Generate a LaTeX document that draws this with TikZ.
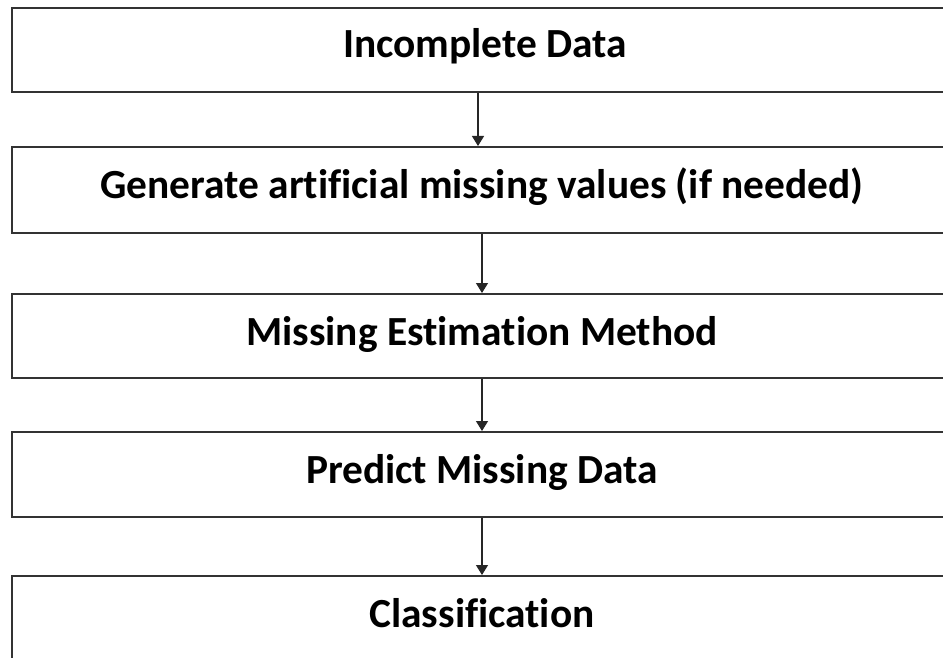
\documentclass[tikz,border=0pt]{standalone}
\usepackage{fontspec}
\setmainfont{Carlito}[Ligatures=NoCommon]
\usetikzlibrary{arrows.meta}
\begin{document}
\begin{tikzpicture}[x=1pt,y=-1pt,
  stagebox/.style={draw=black!80, line width=2pt, minimum width=940pt, inner sep=0pt},
  stagetext/.style={anchor=base, inner sep=0pt, font=\fontsize{41.4}{46}\selectfont\bfseries},
  flow/.style={draw=black!85, line width=1.3pt, -{Triangle[length=10pt,width=12pt]}}]
\useasboundingbox (0,0) rectangle (943,658);
\clip (0,0) rectangle (943,658);
% boxes
\node[stagebox, minimum height=84pt] (s1) at (482,50)  {};
\node[stagebox, minimum height=86pt] (s2) at (482,190) {};
\node[stagebox, minimum height=84pt] (s3) at (482,336) {};
\node[stagebox, minimum height=85pt] (s4) at (482,474.5) {};
\node[stagebox, minimum height=120pt] (s5) at (482,636) {};
% labels
\node[stagetext] (t1) at (485,58)  {Incomplete Data};
\node[stagetext] (t2) at (482,199) {Generate artificial missing values (if needed)};
\node[stagetext] (t3) at (482,345) {Missing Estimation Method};
\node[stagetext] (t4) at (482,483) {Predict Missing Data};
\node[stagetext] (t5) at (482,627) {Classification};
% connectors
\draw[flow] ([xshift=-4pt]s1.south) -- ([xshift=-4pt]s2.north);
\draw[flow] (s2.south) -- (s3.north);
\draw[flow] (s3.south) -- (s4.north);
\draw[flow] (s4.south) -- (s5.north);
\end{tikzpicture}
\end{document}
